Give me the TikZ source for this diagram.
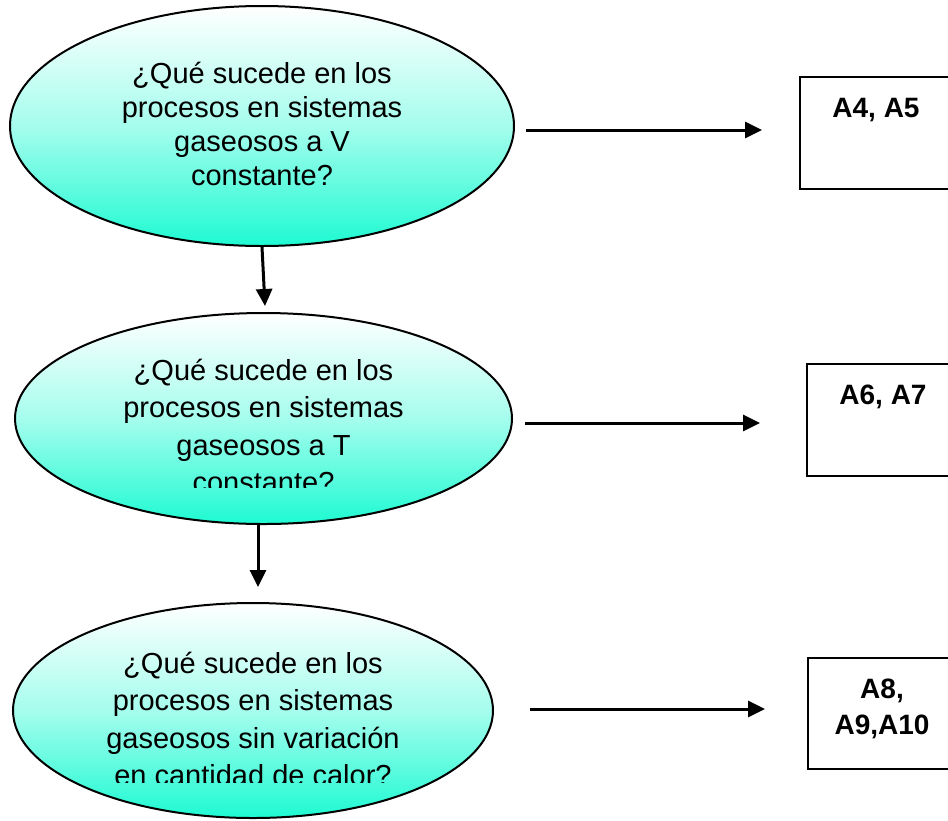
\documentclass[tikz,border=0pt]{standalone}
\usepackage{fontspec}
\setmainfont{Liberation Sans}
\usetikzlibrary{shapes.geometric,arrows.meta}
\definecolor{aqua}{RGB}{30,250,210}
\begin{document}
\begin{tikzpicture}[x=1pt,y=-1pt,
question/.style={ellipse,draw,line width=2pt,top color=white,bottom color=aqua,middle color=aqua!40!white,inner sep=0pt},
qtext/.style={align=center,anchor=base,inner sep=0pt,font=\fontsize{29}{37.5}\selectfont},
result/.style={rectangle,draw,line width=2.4pt,minimum width=154pt,minimum height=112pt,anchor=north west,inner sep=0pt},
rtext/.style={align=center,anchor=base,inner sep=0pt,font=\fontsize{28}{36}\selectfont\bfseries},
link/.style={-{Triangle[length=17pt,width=16pt]},line width=3pt}
]
\clip (0,0) rectangle (948,820);

\node[question,minimum width=504pt,minimum height=240pt] (q1) at (262,126) {};
\node[question,minimum width=497pt,minimum height=211pt] (q2) at (263.5,418.5) {};
\node[question,minimum width=480pt,minimum height=215pt] (q3) at (253,710.5) {};

\node[qtext,font=\fontsize{29}{34}\selectfont] (q1text) at (262,185) {¿Qué sucede en los\\procesos en sistemas\\gaseosos a V\\constante?};
\begin{scope}
\clip (0,0) rectangle (948,487);
\node[qtext] (q2text) at (263.5,492.5) {¿Qué sucede en los\\procesos en sistemas\\gaseosos a T\\constante?};
\end{scope}
\begin{scope}
\clip (0,0) rectangle (948,782);
\node[qtext] (q3text) at (253,785.5) {¿Qué sucede en los\\procesos en sistemas\\gaseosos sin variación\\en cantidad de calor?};
\end{scope}

\node[result] (r1) at (799,76) {};
\node[result] (r2) at (806,363) {};
\node[result,minimum height=111pt] (r3) at (807,657) {};
\node[rtext] (r1text) at ([shift={(77,41)}]r1.north west) {A4, A5};
\node[rtext] (r2text) at ([shift={(77,41)}]r2.north west) {A6, A7};
\node[rtext] (r3text) at ([shift={(75,77)}]r3.north west) {A8,\\A9,A10};

\coordinate (d1) at (265,306);
\coordinate (d2) at (258,587);
\draw[link] (q1.south) -- (d1);
\draw[link] (q2.south -| d2) -- (d2);

\coordinate (h1) at (526,130);
\coordinate (h2) at (525,423);
\coordinate (h3) at (530,709);
\draw[link] (h1) -- ([xshift=-37pt]h1 -| r1.west);
\draw[link] (h2) -- ([xshift=-46pt]h2 -| r2.west);
\draw[link] (h3) -- ([xshift=-42pt]h3 -| r3.west);
\end{tikzpicture}
\end{document}
